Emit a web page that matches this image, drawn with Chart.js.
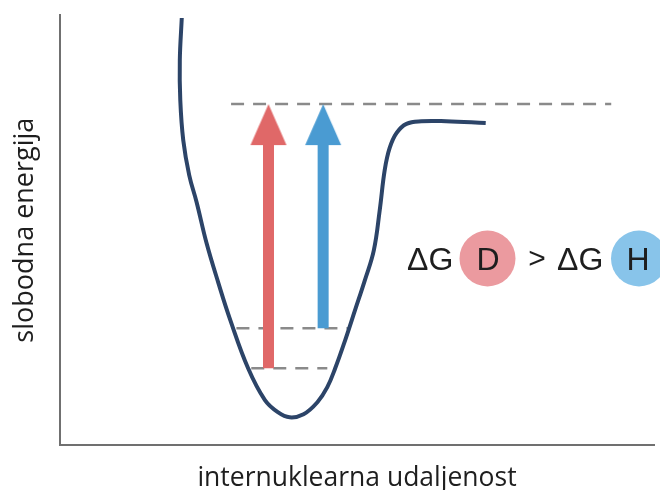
<!DOCTYPE html>
<html>
<head>
<meta charset="utf-8">
<script src="https://cdn.jsdelivr.net/npm/chart.js@4"></script>
<style>
  html, body { margin: 0; padding: 0; background: #fff; }
  #wrap { width: 660px; height: 490px; }
</style>
</head>
<body>
<div id="wrap"><canvas id="chart" width="660" height="490"></canvas></div>
<script>
// potential energy curve (arbitrary units, 0..10 on both axes)
const curveX = [2.05, 2.017, 2.025, 2.075, 2.175, 2.30, 2.467, 2.667, 2.867, 3.167, 3.45, 3.667, 3.867,
                4.10, 4.333, 4.50, 4.633, 4.80, 4.967, 5.133, 5.283, 5.383, 5.467, 5.55, 5.667,
                5.833, 6.083, 6.50, 7.167];
const curveY = [9.93, 8.95, 8.02, 7.09, 6.28, 5.65, 4.70, 3.77, 2.91, 1.79, 1.05, 0.77, 0.65,
                0.72, 1.00, 1.35, 1.79, 2.44, 3.14, 3.84, 4.53, 5.47, 6.40, 6.91, 7.26,
                7.47, 7.53, 7.53, 7.49];

// energy levels
const dissociationLevel = 7.93;
const zeroPointD = 1.79;
const zeroPointH = 2.72;

// where the dashed level lines run on x: [from, to]
const dissociationSpan = [2.88, 9.28];
const zeroPointDSpan = [3.22, 4.50];
const zeroPointHSpan = [2.97, 4.87];

// the two arrows (D red, H blue)
const arrowX = [3.51, 4.43];
const arrowFrom = [zeroPointD, zeroPointH];
const arrowColors = ['#e06868', '#4a9bd2'];

const headLen = 0.88; // shaft stops this far below the tip

function levelLine(span, level) {
  return {
    data: [{ x: span[0], y: level }, { x: span[1], y: level }],
    showLine: true,
    borderColor: '#8a8a8a',
    borderWidth: 2.5,
    borderDash: [13, 9],
    pointRadius: 0,
    order: 3
  };
}

// arrow head as a canvas, tip sits exactly at the centre of the image
function makeHead(color) {
  const c = document.createElement('canvas');
  c.width = 38;
  c.height = 84;
  const g = c.getContext('2d');
  g.fillStyle = color;
  g.beginPath();
  g.moveTo(19, 42);
  g.lineTo(37, 83);
  g.lineTo(1, 83);
  g.closePath();
  g.fill();
  return c;
}

const datasets = [];

datasets.push(levelLine(dissociationSpan, dissociationLevel));
datasets.push(levelLine(zeroPointHSpan, zeroPointH));
datasets.push(levelLine(zeroPointDSpan, zeroPointD));

datasets.push({
  data: curveX.map((x, i) => ({ x: x, y: curveY[i] })),
  showLine: true,
  borderColor: '#2c4468',
  borderWidth: 4,
  tension: 0.4,
  pointRadius: 0,
  order: 2
});

arrowX.forEach((x, i) => {
  datasets.push({
    data: [{ x: x, y: arrowFrom[i] }, { x: x, y: dissociationLevel - headLen }],
    showLine: true,
    borderColor: arrowColors[i],
    borderWidth: 11,
    borderCapStyle: 'butt',
    pointRadius: 0,
    order: 1
  });
  datasets.push({
    data: [{ x: x, y: dissociationLevel }],
    showLine: false,
    pointStyle: makeHead(arrowColors[i]),
    pointRadius: 5,
    order: 0
  });
});

// ΔG(D) > ΔG(H) with the coloured circles
const deltaLabels = {
  id: 'deltaLabels',
  afterDatasetsDraw(chart) {
    const ctx = chart.ctx;
    ctx.save();
    ctx.fillStyle = '#eb9a9f';
    ctx.beginPath();
    ctx.arc(487.5, 258.5, 28, 0, Math.PI * 2);
    ctx.fill();
    ctx.fillStyle = '#88c4ea';
    ctx.beginPath();
    ctx.arc(639, 258.5, 28, 0, Math.PI * 2);
    ctx.fill();

    ctx.fillStyle = '#1e1e1e';
    ctx.textBaseline = 'alphabetic';
    ctx.textAlign = 'left';
    ctx.font = '32px "Liberation Sans", Arial, sans-serif';
    ctx.fillText('ΔG', 407, 270);
    ctx.fillText('ΔG', 557, 270);
    ctx.textAlign = 'center';
    ctx.fillText('D', 488, 270);
    ctx.fillText('H', 638, 270);
    ctx.font = '30px "Liberation Sans", Arial, sans-serif';
    ctx.fillText('>', 537, 268);
    ctx.restore();
  }
};

new Chart(document.getElementById('chart'), {
  type: 'scatter',
  data: { datasets: datasets },
  options: {
    responsive: false,
    animation: false,
    events: [],
    layout: { padding: { top: 15, right: 0, bottom: 0.12, left: 0 } },
    plugins: {
      legend: { display: false },
      tooltip: { enabled: false }
    },
    scales: {
      x: {
        type: 'linear',
        min: 0,
        max: 10,
        grid: { display: false, drawTicks: false },
        ticks: { display: false },
        border: { display: true, color: '#707070', width: 2 },
        title: {
          display: true,
          text: 'internuklearna udaljenost',
          color: '#1e1e1e',
          font: { family: 'Open Sans', size: 26.5, lineHeight: 0.88 },
          padding: { top: 21.3, bottom: 0 }
        }
      },
      y: {
        type: 'linear',
        min: 0,
        max: 10,
        grid: { display: false, drawTicks: false },
        ticks: { display: false },
        border: { display: true, color: '#707070', width: 2 },
        title: {
          display: true,
          text: 'slobodna energija',
          color: '#1e1e1e',
          font: { family: 'Open Sans', size: 27, lineHeight: 1.2 },
          padding: { top: 8.8, bottom: 18.8 }
        }
      }
    }
  },
  plugins: [deltaLabels]
});
</script>
</body>
</html>
